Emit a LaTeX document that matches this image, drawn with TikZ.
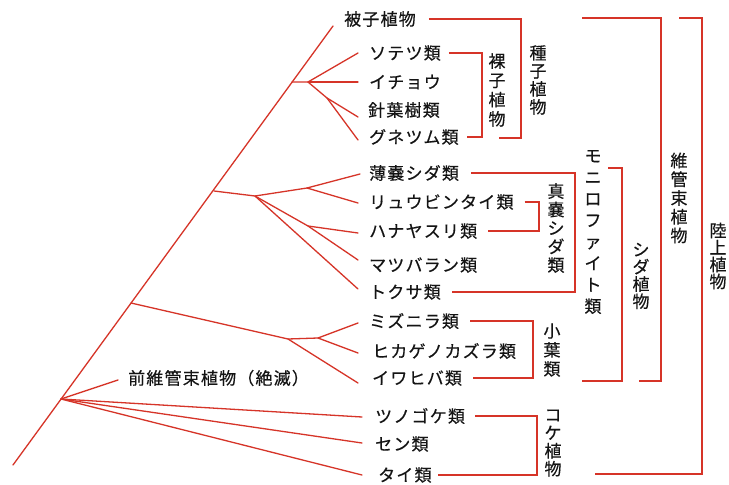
\documentclass[tikz,border=0pt]{standalone}
\usepackage{fontspec}
\newfontfamily\jp[LetterSpace=7,FakeBold=0.4]{Noto Sans CJK JP}
\newfontfamily\jpv[FakeBold=0.4]{Noto Sans CJK JP}
\definecolor{tree}{RGB}{214,52,40}
\definecolor{ink}{RGB}{20,20,20}
\begin{document}
\begin{tikzpicture}[x=1pt,y=-1pt,
  br/.style={draw=tree, line width=1.3pt, line join=miter},
  tr/.style={draw=tree, line width=1.3pt, line cap=round, line join=round},
  leaf/.style={anchor=west, inner sep=0pt, text=ink, font=\jp\fontsize{17}{18}\selectfont},
  vlab/.style={align=center, inner sep=0pt, text=ink, font=\jpv\fontsize{17}{#1}\selectfont},
]
\useasboundingbox[fill=white] (0,0) rectangle (729,485);

% ---------- labels (tips) ----------
\node[leaf] (hishi)    at (344,19)  {被子植物};
\node[leaf] (sotetsu)  at (369,53)  {ソテツ類};
\node[leaf] (ichou)    at (369,82)  {イチョウ};
\node[leaf] (shinyou)  at (368,110) {針葉樹類};
\node[leaf] (gnetum)   at (369,137) {グネツム類};
\node[leaf] (hakunou)  at (369,173) {薄嚢シダ類};
\node[leaf] (ryubin)   at (369,202) {リュウビンタイ類};
\node[leaf] (hanayasu) at (369,231) {ハナヤスリ類};
\node[leaf] (matsuba)  at (369,265) {マツバラン類};
\node[leaf] (tokusa)   at (369,292) {トクサ類};
\node[leaf] (mizunira) at (369,321) {ミズニラ類};
\node[leaf] (hikage)   at (372,351) {ヒカゲノカズラ類};
\node[leaf] (iwahiba)  at (372,378) {イワヒバ類};
\node[leaf] (tsuno)    at (375,416) {ツノゴケ類};
\node[leaf] (sen)      at (375,444) {セン類};
\node[leaf] (tai)      at (378,475) {タイ類};
\node[leaf] (zen)      at (128,378) {前維管束植物（絶滅）};

% ---------- group labels (vertical) ----------
\node[vlab=19.3] (rashi)  at (497,90)  {裸\\子\\植\\物};
\node[vlab=18]   (shushi) at (538,80)  {種\\子\\植\\物};
\node[vlab=18.5] (shinno) at (556,228) {真\\嚢\\シ\\ダ\\類};
\node[vlab=21.5] (moni)   at (593,232) {モ\\ニ\\ロ\\フ\\ァ\\イ\\ト\\類};
\node[vlab=19]   (shoyou) at (552,350) {小\\葉\\類};
\node[vlab=17.3] (shida)  at (641,276) {シ\\ダ\\植\\物};
\node[vlab=18.75](ikan)   at (679,198) {維\\管\\束\\植\\物};
\node[vlab=17]   (rikujo) at (718,256) {陸\\上\\植\\物};
\node[vlab=18]   (koke)   at (553,443) {コ\\ケ\\植\\物};

% ---------- tree ----------
\coordinate (root) at (13,465);
\coordinate (top)  at (333,26);
\coordinate (nb)   at (61,399);
\coordinate (nl)   at (131,303);
\coordinate (nf)   at (214,191);
\coordinate (ns)   at (292,82);
\draw[tr] (root) -- (top);

% seed plants
\coordinate (s1) at (308,82);
\coordinate (s2) at (327,98);
\coordinate (tSot) at (358,53);
\coordinate (tIch) at (358,82);
\coordinate (tShi) at (358,117);
\coordinate (tGne) at (358,140);
\draw[tr] (ns) -- (s1) -- (tSot);
\draw[tr] (s1) -- (tIch);
\draw[tr] (s1) -- (s2) -- (tShi);
\draw[tr] (s2) -- (tGne);

% monilophytes
\coordinate (f1) at (255,196);
\coordinate (f2) at (307,188);
\coordinate (f3) at (308,226);
\coordinate (tHak) at (360,174);
\coordinate (tRyu) at (358,203);
\coordinate (tHan) at (358,233);
\coordinate (tMat) at (358,260);
\coordinate (tTok) at (358,289);
\draw[tr] (nf) -- (f1) -- (f2) -- (tHak);
\draw[tr] (f2) -- (tRyu);
\draw[tr] (f1) -- (f3) -- (tHan);
\draw[tr] (f3) -- (tMat);
\draw[tr] (f1) -- (tTok);

% lycophytes
\coordinate (l1) at (288,339);
\coordinate (l2) at (318,338);
\coordinate (tMiz) at (358,323);
\coordinate (tHik) at (358,353);
\coordinate (tIwa) at (358,383);
\draw[tr] (nl) -- (l1) -- (l2) -- (tMiz);
\draw[tr] (l2) -- (tHik);
\draw[tr] (l1) -- (tIwa);

% basal
\coordinate (tZen) at (118,380);
\coordinate (tTsu) at (362,417);
\coordinate (tSen) at (362,443);
\coordinate (tTai) at (362,475);
\draw[tr] (nb) -- (tZen);
\draw[tr] (nb) -- (tTsu);
\draw[tr] (nb) -- (tSen);
\draw[tr] (nb) -- (tTai);

% ---------- brackets ----------
\coordinate (xRashi)  at (482,0);
\coordinate (xShushi) at (521,0);
\coordinate (xShinno) at (539,0);
\coordinate (xMoni)   at (575,0);
\coordinate (xShoyou) at (533,0);
\coordinate (xShida)  at (622,0);
\coordinate (xIkan)   at (661,0);
\coordinate (xRiku)   at (702,0);
\coordinate (xKoke)   at (537,0);

\draw[br] ([xshift=8pt]sotetsu.east) -| (xRashi |- gnetum.east) -- ([xshift=8pt]gnetum.east);

\coordinate (shushiEnd) at (499,138);
\draw[br] ([xshift=13pt]hishi.east) -| (xShushi |- shushiEnd) -- (shushiEnd);

\draw[br] ([xshift=11pt]ryubin.east) -| (xShinno |- hanayasu.east) -- ([xshift=11pt]hanayasu.east);

\draw[br] ([xshift=12pt]hakunou.east) -| (xMoni |- tokusa.east) -- ([xshift=11pt]tokusa.east);

\draw[br] ([xshift=11pt]mizunira.east) -| (xShoyou |- iwahiba.east) -- ([xshift=11pt]iwahiba.east);

\coordinate (shidaTop) at (608,168);
\coordinate (shidaEnd) at (582,381);
\draw[br] (shidaTop) -| (xShida |- shidaEnd) -- (shidaEnd);

\coordinate (ikanTop) at (582,18);
\coordinate (ikanEnd) at (639,381);
\draw[br] (ikanTop) -| (xIkan |- ikanEnd) -- (ikanEnd);

\coordinate (rikuTop) at (679,18);
\coordinate (rikuEnd) at (595,474);
\draw[br] (rikuTop) -| (xRiku |- rikuEnd) -- (rikuEnd);

\draw[br] ([xshift=10pt]tsuno.east) -| (xKoke |- tai.east) -- ([xshift=6pt]tai.east);
\end{tikzpicture}
\end{document}
